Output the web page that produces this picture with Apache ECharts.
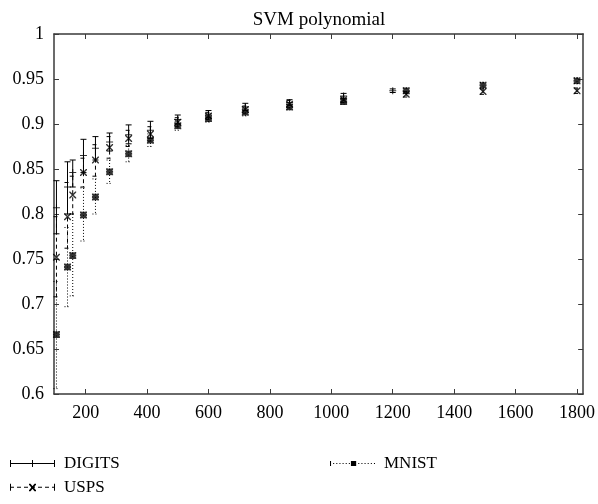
<!DOCTYPE html>
<html>
<head>
<meta charset="utf-8">
<script src="https://cdn.jsdelivr.net/npm/echarts@6/dist/echarts.min.js"></script>
<style>
  html, body { margin: 0; padding: 0; background: #fff; }
  #chart { width: 598px; height: 504px; }
</style>
</head>
<body>
<div id="chart"></div>
<script>
// Training-set sizes and mean accuracy with error-bar bounds per dataset
var digitsX     = [105, 141, 158, 193, 232, 278, 340, 411, 500, 600, 720, 864, 1040, 1200];
var digitsMean  = [0.807, 0.830, 0.846, 0.865, 0.873, 0.880, 0.888, 0.893, 0.905, 0.911, 0.919, 0.924, 0.931, 0.937];
var digitsLow   = [0.778, 0.800, 0.830, 0.846, 0.860, 0.870, 0.878, 0.884, 0.900, 0.907, 0.915, 0.921, 0.928, 0.935];
var digitsHigh  = [0.837, 0.858, 0.860, 0.883, 0.886, 0.890, 0.899, 0.903, 0.910, 0.915, 0.923, 0.927, 0.934, 0.939];

var uspsX       = [105, 141, 158, 193, 232, 278, 340, 411, 500, 600, 720, 864, 1040, 1244, 1494, 1800];
var uspsMean    = [0.752, 0.797, 0.821, 0.846, 0.860, 0.874, 0.884, 0.889, 0.902, 0.909, 0.916, 0.922, 0.927, 0.933, 0.936, 0.937];
var uspsLow     = [0.708, 0.762, 0.800, 0.830, 0.842, 0.862, 0.875, 0.881, 0.897, 0.905, 0.912, 0.918, 0.924, 0.930, 0.933, 0.934];
var uspsHigh    = [0.797, 0.835, 0.842, 0.862, 0.877, 0.886, 0.893, 0.897, 0.907, 0.913, 0.920, 0.926, 0.930, 0.936, 0.939, 0.940];

var mnistX      = [105, 141, 158, 193, 232, 278, 340, 411, 500, 600, 720, 864, 1040, 1244, 1494, 1800];
var mnistMean   = [0.666, 0.741, 0.754, 0.799, 0.819, 0.847, 0.867, 0.882, 0.898, 0.906, 0.913, 0.919, 0.925, 0.937, 0.943, 0.948];
var mnistLow    = [0.606, 0.697, 0.709, 0.770, 0.800, 0.834, 0.858, 0.875, 0.893, 0.902, 0.909, 0.916, 0.922, 0.934, 0.940, 0.945];
var mnistHigh   = [0.725, 0.785, 0.800, 0.829, 0.839, 0.860, 0.876, 0.889, 0.903, 0.910, 0.917, 0.922, 0.928, 0.940, 0.946, 0.951];

var xTicks = [200, 400, 600, 800, 1000, 1200, 1400, 1600, 1800];
var yTicks = [0.6, 0.65, 0.7, 0.75, 0.8, 0.85, 0.9, 0.95, 1];

var FONT = '"Liberation Serif", "DejaVu Serif", serif';
var INK = '#000';
var FRAME = '#3a3a3a';

// point symbols
var SYM_PLUS  = 'path://M0,3h7v1h-7z M3,0h1v7h-1z';
var SYM_CROSS = 'path://M0,0L1,0L7,6L7,7L6,7L0,1Z M6,0L7,0L7,1L1,7L0,7L0,6Z';
var SYM_STAR  = 'path://M0,2.5h7v2h-7z M2.5,0h2v7h-2z M0,0L1.5,0L7,5.5L7,7L5.5,7L0,1.5Z M5.5,0L7,0L7,1.5L1.5,7L0,7L0,5.5Z';

// legend samples: line with end caps and the point symbol in the middle
function dashedRun(from, to, on, off, y, h) {
  var s = '';
  for (var x = from; x < to; x += on + off) {
    var w = Math.min(on, to - x);
    s += ' M' + x + ',' + y + 'h' + w + 'v' + h + 'h-' + w + 'z';
  }
  return s;
}
var ICON_DIGITS = 'path://M0,4h45v1h-45z M0,1h1v7h-1z M44,1h1v7h-1z M22,1h1v7h-1z';
var ICON_USPS = 'path://' + dashedRun(0, 45, 4, 3, 4, 1) +
  ' M0,1h1v7h-1z M44,1h1v7h-1z M19,1L20.5,1L26,7.5L26,8.5L24.5,8.5L19,2Z M24.5,1L26,1L26,2L20.5,8.5L19,8.5L19,7.5Z';
var ICON_MNIST = 'path://' + dashedRun(0, 45, 1, 2, 4, 1) + ' M0,2h1v5h-1z M20,2h5v5h-5z';

function pack(xs, lo, hi) {
  return xs.map(function (x, i) { return [x, lo[i], hi[i]]; });
}
function points(xs, ys) {
  return xs.map(function (x, i) { return [x, ys[i]]; });
}

function errorBars(dash) {
  return function (params, api) {
    var x = api.value(0);
    var top = api.coord([x, api.value(2)]);
    var bot = api.coord([x, api.value(1)]);
    var c = 3;
    var style = { stroke: INK, lineWidth: 1, lineDash: dash, fill: null };
    return {
      type: 'group',
      children: [
        { type: 'line', shape: { x1: top[0], y1: top[1], x2: bot[0], y2: bot[1] }, style: style },
        { type: 'line', shape: { x1: top[0] - c, y1: top[1], x2: top[0] + c, y2: top[1] }, style: style },
        { type: 'line', shape: { x1: bot[0] - c, y1: bot[1], x2: bot[0] + c, y2: bot[1] }, style: style }
      ]
    };
  };
}

function plainNumber(v) { return String(+v.toFixed(4)); }

var tickFont = { fontFamily: FONT, fontSize: 18, color: INK };

var chart = echarts.init(document.getElementById('chart'), null, { renderer: 'canvas' });
chart.setOption({
  animation: false,
  backgroundColor: '#fff',
  title: {
    text: 'SVM polynomial',
    left: 319,
    textAlign: 'center',
    top: 11,
    padding: 0,
    textStyle: { fontFamily: FONT, fontSize: 19, fontWeight: 'normal', color: INK }
  },
  grid: { left: 54, right: 14, top: 34, bottom: 110, show: false },
  legend: [
    {
      orient: 'vertical',
      left: 10,
      top: 455,
      itemWidth: 45,
      itemHeight: 9,
      itemGap: 7,
      padding: 0,
      textStyle: { fontFamily: FONT, fontSize: 17, color: INK, padding: [0, 0, 0, 4] },
      itemStyle: { color: INK, borderWidth: 0 },
      data: [
        { name: 'DIGITS', icon: ICON_DIGITS },
        { name: 'USPS', icon: ICON_USPS }
      ]
    },
    {
      orient: 'vertical',
      left: 330,
      top: 455,
      itemWidth: 45,
      itemHeight: 9,
      padding: 0,
      textStyle: { fontFamily: FONT, fontSize: 17, color: INK, padding: [0, 0, 0, 4] },
      itemStyle: { color: INK, borderWidth: 0 },
      data: [{ name: 'MNIST', icon: ICON_MNIST }]
    }
  ],
  xAxis: [
    {
      type: 'value', min: 97, max: 1820, position: 'bottom',
      splitLine: { show: false },
      axisLine: { show: true, lineStyle: { color: FRAME, width: 1.5 } },
      axisTick: { show: true, inside: true, length: 5, customValues: xTicks, lineStyle: { color: FRAME, width: 1 } },
      axisLabel: Object.assign({ margin: 10, customValues: xTicks, formatter: plainNumber }, tickFont)
    },
    {
      type: 'value', min: 97, max: 1820, position: 'top',
      splitLine: { show: false },
      axisLine: { show: true, lineStyle: { color: FRAME, width: 1.5 } },
      axisTick: { show: true, inside: true, length: 5, customValues: xTicks, lineStyle: { color: FRAME, width: 1 } },
      axisLabel: { show: false }
    }
  ],
  yAxis: [
    {
      type: 'value', min: 0.6, max: 1, position: 'left',
      splitLine: { show: false },
      axisLine: { show: true, lineStyle: { color: FRAME, width: 1.5 } },
      axisTick: { show: true, inside: true, length: 5, customValues: yTicks, lineStyle: { color: FRAME, width: 1 } },
      axisLabel: Object.assign({ margin: 10, customValues: yTicks, formatter: plainNumber }, tickFont)
    },
    {
      type: 'value', min: 0.6, max: 1, position: 'right',
      splitLine: { show: false },
      axisLine: { show: true, lineStyle: { color: FRAME, width: 1.5 } },
      axisTick: { show: true, inside: true, length: 5, customValues: yTicks, lineStyle: { color: FRAME, width: 1 } },
      axisLabel: { show: false }
    }
  ],
  series: [
    {
      name: 'DIGITS', type: 'custom', renderItem: errorBars(null),
      data: pack(digitsX, digitsLow, digitsHigh), encode: { x: 0, y: [1, 2] },
      itemStyle: { color: INK }, silent: true
    },
    {
      name: 'USPS', type: 'custom', renderItem: errorBars([4, 3]),
      data: pack(uspsX, uspsLow, uspsHigh), encode: { x: 0, y: [1, 2] },
      itemStyle: { color: INK }, silent: true
    },
    {
      name: 'MNIST', type: 'custom', renderItem: errorBars([1, 2]),
      data: pack(mnistX, mnistLow, mnistHigh), encode: { x: 0, y: [1, 2] },
      itemStyle: { color: INK }, silent: true
    },
    {
      name: 'DIGITS', type: 'scatter', symbol: SYM_PLUS, symbolSize: 7,
      data: points(digitsX, digitsMean), itemStyle: { color: INK }, z: 3
    },
    {
      name: 'USPS', type: 'scatter', symbol: SYM_CROSS, symbolSize: 7,
      data: points(uspsX, uspsMean), itemStyle: { color: INK }, z: 3
    },
    {
      name: 'MNIST', type: 'scatter', symbol: SYM_STAR, symbolSize: 7,
      data: points(mnistX, mnistMean), itemStyle: { color: INK }, z: 3
    }
  ]
});
</script>
</body>
</html>
